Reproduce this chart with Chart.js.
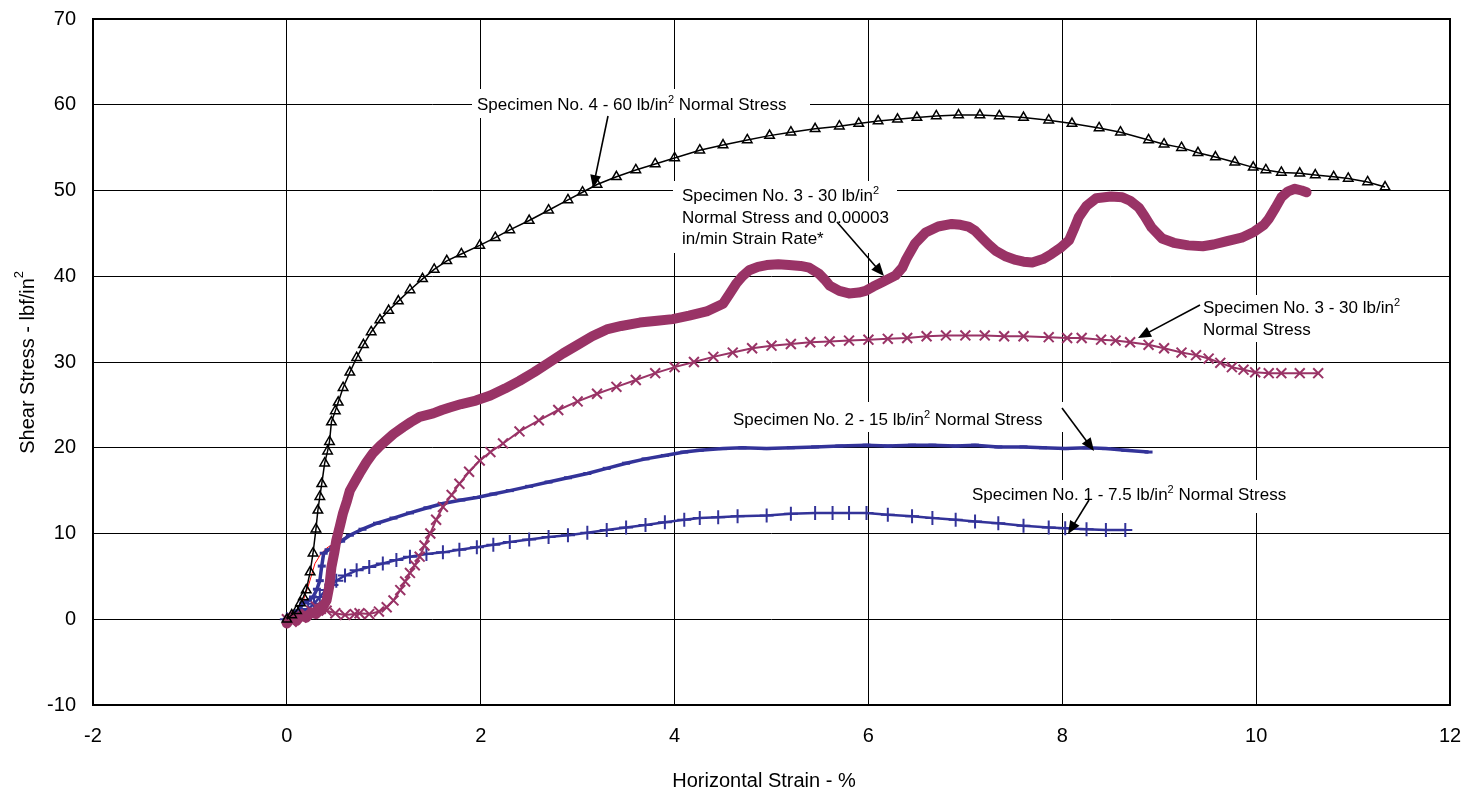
<!DOCTYPE html>
<html>
<head>
<meta charset="utf-8">
<script src="https://cdn.jsdelivr.net/npm/chart.js@4.4.1/dist/chart.umd.min.js"></script>
<style>
  body { margin: 0; background: #fff; }
</style>
</head>
<body>
<canvas id="myChart" width="1465" height="795"></canvas>
<script>
// Specimen No. 4 - 60 psi
const spec4X = [0, 0.05, 0.1, 0.14, 0.17, 0.2, 0.24, 0.27, 0.3, 0.32, 0.34, 0.36, 0.39, 0.42, 0.44, 0.46, 0.5, 0.53, 0.58, 0.65, 0.72, 0.79, 0.87, 0.96, 1.05, 1.15, 1.27, 1.4, 1.52, 1.65, 1.8, 1.99, 2.15, 2.3, 2.5, 2.7, 2.9, 3.05, 3.2, 3.4, 3.6, 3.8, 4.0, 4.26, 4.5, 4.75, 4.98, 5.2, 5.45, 5.7, 5.9, 6.1, 6.3, 6.5, 6.7, 6.93, 7.15, 7.35, 7.6, 7.86, 8.1, 8.38, 8.6, 8.89, 9.05, 9.23, 9.4, 9.58, 9.78, 9.97, 10.1, 10.26, 10.45, 10.61, 10.8, 10.95, 11.15, 11.33];
const spec4Y = [0, 0.5, 1.0, 1.9, 2.6, 3.4, 5.5, 7.7, 10.5, 12.7, 14.3, 15.8, 18.2, 19.6, 20.7, 23, 24.3, 25.3, 27, 28.8, 30.5, 32, 33.5, 34.9, 36, 37.1, 38.4, 39.7, 40.8, 41.8, 42.6, 43.6, 44.5, 45.4, 46.5, 47.7, 48.9, 49.8, 50.7, 51.6, 52.4, 53.1, 53.8, 54.7, 55.3, 55.9, 56.4, 56.8, 57.2, 57.5, 57.8, 58.1, 58.3, 58.5, 58.7, 58.8, 58.8, 58.7, 58.5, 58.2, 57.8, 57.3, 56.8, 55.9, 55.4, 55.0, 54.4, 53.9, 53.3, 52.7, 52.4, 52.1, 52.0, 51.8, 51.6, 51.4, 51.0, 50.4];

// Specimen No. 3 - 30 psi, slow strain rate
const spec3sX = [0, 0.05, 0.1, 0.15, 0.2, 0.25, 0.3, 0.35, 0.38, 0.41, 0.44, 0.46, 0.49, 0.51, 0.55, 0.58, 0.62, 0.65, 0.7, 0.75, 0.82, 0.89, 0.96, 1.03, 1.1, 1.2, 1.28, 1.37, 1.51, 1.6, 1.68, 1.8, 1.95, 2.1, 2.25, 2.4, 2.55, 2.7, 2.85, 3.0, 3.15, 3.3, 3.45, 3.64, 3.82, 3.98, 4.15, 4.33, 4.5, 4.57, 4.64, 4.7, 4.77, 4.86, 4.95, 5.07, 5.18, 5.3, 5.39, 5.49, 5.55, 5.6, 5.7, 5.8, 5.9, 5.97, 6.05, 6.14, 6.28, 6.35, 6.39, 6.48, 6.59, 6.72, 6.86, 6.95, 7.03, 7.1, 7.17, 7.24, 7.31, 7.42, 7.52, 7.6, 7.69, 7.8, 7.89, 7.98, 8.07, 8.12, 8.17, 8.25, 8.35, 8.5, 8.62, 8.7, 8.79, 8.85, 8.92, 9.03, 9.15, 9.3, 9.45, 9.56, 9.7, 9.85, 9.98, 10.08, 10.13, 10.2, 10.26, 10.33, 10.4, 10.47, 10.52];
const spec3sY = [-0.5, 0.3, -0.2, 0.5, 0.2, 0.8, 0.6, 1.2, 1.6, 2.2, 4, 6.1, 7.8, 9.2, 11, 12.4, 13.8, 15, 16, 17, 18.3, 19.4, 20.2, 20.9, 21.6, 22.4, 23.0, 23.6, 24, 24.4, 24.7, 25.1, 25.5, 26.1, 26.9, 27.8, 28.8, 29.9, 31, 32, 33, 33.8, 34.2, 34.6, 34.8, 35.0, 35.4, 35.9, 36.8, 38, 39.2, 40, 40.7, 41.1, 41.3, 41.4, 41.3, 41.2, 41.0, 40.3, 39.6, 38.9, 38.3, 38, 38.1, 38.3, 38.8, 39.3, 40.1, 41, 42.0, 43.8, 45.1, 45.8, 46.1, 46.0, 45.8, 45.3, 44.5, 43.7, 43, 42.3, 41.9, 41.7, 41.6, 42, 42.6, 43.3, 44.2, 45.5, 46.9, 48.2, 49.1, 49.3, 49.2, 48.8, 48, 47, 45.7, 44.4, 43.9, 43.6, 43.5, 43.7, 44.1, 44.5, 45.2, 46, 46.7, 48, 49.2, 49.9, 50.2, 50.0, 49.8];

// Specimen No. 3 - 30 psi
const spec3X = [0, 0.05, 0.1, 0.15, 0.2, 0.25, 0.3, 0.35, 0.41, 0.5, 0.6, 0.7, 0.75, 0.85, 0.95, 1.03, 1.1, 1.17, 1.22, 1.27, 1.32, 1.37, 1.42, 1.48, 1.54, 1.61, 1.7, 1.78, 1.88, 1.99, 2.1, 2.23, 2.4, 2.6, 2.8, 3.0, 3.2, 3.4, 3.6, 3.8, 4.0, 4.2, 4.4, 4.6, 4.8, 5.0, 5.2, 5.4, 5.6, 5.8, 6.0, 6.2, 6.4, 6.6, 6.8, 7.0, 7.2, 7.4, 7.6, 7.86, 8.05, 8.2, 8.4, 8.55, 8.7, 8.89, 9.05, 9.23, 9.38, 9.51, 9.63, 9.75, 9.87, 9.99, 10.13, 10.26, 10.45, 10.64];
const spec3Y = [0, -0.3, 0.4, 0.2, 0.6, 1.0, 1.5, 1.2, 1.0, 0.7, 0.5, 0.6, 0.7, 0.6, 0.9, 1.4, 2.2, 3.4, 4.4, 5.4, 6.3, 7.3, 8.6, 10, 11.6, 13.1, 14.5, 15.8, 17.2, 18.5, 19.5, 20.5, 21.9, 23.2, 24.4, 25.4, 26.3, 27.1, 27.9, 28.7, 29.4, 30.0, 30.6, 31.1, 31.6, 31.9, 32.1, 32.3, 32.4, 32.5, 32.6, 32.7, 32.8, 33.0, 33.1, 33.1, 33.1, 33.0, 33.0, 32.9, 32.8, 32.8, 32.6, 32.5, 32.3, 32, 31.6, 31.1, 30.8, 30.4, 29.9, 29.4, 29.1, 28.8, 28.7, 28.7, 28.7, 28.7];

// Specimen No. 2 - 15 psi
const spec2X = [0, 0.07, 0.12, 0.17, 0.22, 0.27, 0.31, 0.34, 0.36, 0.38, 0.43, 0.48, 0.56, 0.65, 0.78, 0.93, 1.1, 1.27, 1.45, 1.61, 1.8, 1.96, 2.13, 2.3, 2.5, 2.7, 2.9, 3.1, 3.3, 3.5, 3.7, 3.9, 4.1, 4.26, 4.5, 4.7, 4.95, 5.2, 5.45, 5.7, 5.98, 6.2, 6.45, 6.66, 6.9, 7.1, 7.34, 7.6, 7.8, 8.03, 8.25, 8.45, 8.65, 8.89];
const spec2Y = [0, 0.3, 1.0, 1.9, 2.2, 2.6, 3.5, 4.5, 6.2, 7.7, 8.1, 8.4, 9.1, 9.8, 10.5, 11.2, 11.8, 12.4, 13.0, 13.5, 13.9, 14.2, 14.6, 15.0, 15.5, 16.0, 16.5, 17.0, 17.6, 18.2, 18.7, 19.1, 19.5, 19.7, 19.9, 20.0, 19.9, 20.0, 20.1, 20.2, 20.3, 20.2, 20.3, 20.3, 20.2, 20.3, 20.1, 20.1, 20.0, 19.9, 20.0, 19.9, 19.7, 19.5];

// early trace under specimen 2 (thin red)
const spec2aX = [0, 0.1, 0.17, 0.23, 0.29, 0.35, 0.41, 0.48, 0.55, 0.62];
const spec2aY = [0, 0.6, 2.2, 4.2, 6.5, 7.6, 8.3, 8.8, 9.2, 9.7];

// Specimen No. 1 - 7.5 psi
const spec1X = [0, 0.08, 0.15, 0.22, 0.28, 0.34, 0.4, 0.46, 0.51, 0.6, 0.72, 0.85, 0.99, 1.13, 1.27, 1.44, 1.61, 1.78, 1.96, 2.13, 2.3, 2.5, 2.7, 2.9, 3.1, 3.3, 3.5, 3.7, 3.9, 4.1, 4.26, 4.45, 4.65, 4.95, 5.2, 5.45, 5.63, 5.8, 5.98, 6.2, 6.45, 6.66, 6.9, 7.1, 7.34, 7.6, 7.86, 8.03, 8.25, 8.45, 8.65];
const spec1Y = [0, 0.3, 0.8, 1.2, 1.8, 2.6, 3.4, 4.0, 4.5, 5.1, 5.7, 6.1, 6.5, 6.9, 7.3, 7.6, 7.8, 8.1, 8.4, 8.7, 9.0, 9.3, 9.6, 9.8, 10.1, 10.4, 10.7, 11.0, 11.3, 11.6, 11.8, 11.9, 12.0, 12.1, 12.3, 12.4, 12.4, 12.4, 12.4, 12.2, 12.0, 11.8, 11.6, 11.4, 11.2, 10.9, 10.7, 10.6, 10.5, 10.4, 10.4];

const xTicks = [-2, 0, 2, 4, 6, 8, 10, 12];
const yTicks = [-10, 0, 10, 20, 30, 40, 50, 60, 70];

const PLUM = '#993366';
const NAVY = '#333399';
const FONT = "'Liberation Sans', Arial, sans-serif";

function pts(xs, ys) {
    return xs.map((x, i) => ({x: x, y: ys[i]}));
}

// text with a superscript "2"
function drawRich(ctx, parts, x, y, size) {
    let cx = x;
    parts.forEach(p => {
        if (p.sup) {
            ctx.font = Math.round(size * 0.65) + 'px ' + FONT;
            ctx.fillText(p.t, cx, y - size * 0.42);
        } else {
            ctx.font = size + 'px ' + FONT;
            ctx.fillText(p.t, cx, y);
        }
        cx += ctx.measureText(p.t).width;
    });
}

function arrow(ctx, x1, y1, x2, y2) {
    const a = Math.atan2(y2 - y1, x2 - x1);
    const len = 13, w = 5.5;
    ctx.strokeStyle = '#000';
    ctx.fillStyle = '#000';
    ctx.lineWidth = 1.6;
    ctx.beginPath();
    ctx.moveTo(x1, y1);
    ctx.lineTo(x2 - Math.cos(a) * len * 0.8, y2 - Math.sin(a) * len * 0.8);
    ctx.stroke();
    ctx.beginPath();
    ctx.moveTo(x2, y2);
    ctx.lineTo(x2 - Math.cos(a) * len + Math.sin(a) * w, y2 - Math.sin(a) * len - Math.cos(a) * w);
    ctx.lineTo(x2 - Math.cos(a) * len - Math.sin(a) * w, y2 - Math.sin(a) * len + Math.cos(a) * w);
    ctx.closePath();
    ctx.fill();
}

const notes = [
    {box: [472, 89, 338, 29], lines: [[{t: 'Specimen No. 4 - 60 lb/in'}, {t: '2', sup: true}, {t: ' Normal Stress'}]], x: 477, y: 110,
     arrow: [608, 116, 593, 188]},
    {box: [673, 181, 224, 72], lines: [[{t: 'Specimen No. 3 - 30 lb/in'}, {t: '2', sup: true}], [{t: 'Normal Stress and 0.00003'}], [{t: 'in/min Strain Rate*'}]], x: 682, y: 201,
     arrow: [837, 222, 884, 276]},
    {box: [1198, 295, 212, 47], lines: [[{t: 'Specimen No. 3 - 30 lb/in'}, {t: '2', sup: true}], [{t: 'Normal Stress'}]], x: 1203, y: 313,
     arrow: [1200, 305, 1138, 338]},
    {box: [727, 402, 337, 30], lines: [[{t: 'Specimen No. 2 - 15 lb/in'}, {t: '2', sup: true}, {t: ' Normal Stress'}]], x: 733, y: 425,
     arrow: [1062, 408, 1094, 451]},
    {box: [966, 480, 324, 33], lines: [[{t: 'Specimen No. 1 - 7.5 lb/in'}, {t: '2', sup: true}, {t: ' Normal Stress'}]], x: 972, y: 500,
     arrow: [1089, 500, 1068, 534]},
];

const notesPlugin = {
    id: 'notes',
    beforeDatasetsDraw(chart) {
        const ctx = chart.ctx;
        ctx.save();
        ctx.fillStyle = '#fff';
        notes.forEach(n => ctx.fillRect(n.box[0], n.box[1], n.box[2], n.box[3]));
        ctx.restore();
    },
    afterDatasetsDraw(chart) {
        const ctx = chart.ctx;
        const a = chart.chartArea;
        ctx.save();
        ctx.fillStyle = '#000';
        ctx.textBaseline = 'alphabetic';
        ctx.textAlign = 'left';
        notes.forEach(n => {
            n.lines.forEach((l, i) => drawRich(ctx, l, n.x, n.y + i * 21.5, 17));
            arrow(ctx, ...n.arrow);
        });
        // frame
        ctx.strokeStyle = '#000';
        ctx.lineWidth = 2;
        ctx.strokeRect(a.left, a.top, a.right - a.left, a.bottom - a.top);
        // axis titles
        ctx.fillStyle = '#000';
        ctx.textAlign = 'center';
        ctx.textBaseline = 'middle';
        ctx.font = '20px ' + FONT;
        ctx.fillText('Horizontal Strain - %', 764, 781);
        ctx.translate(28, (a.top + a.bottom) / 2);
        ctx.rotate(-Math.PI / 2);
        ctx.textAlign = 'left';
        const t1 = 'Shear Stress - lbf/in';
        const w = ctx.measureText(t1).width + 8;
        drawRich(ctx, [{t: t1}, {t: '2', sup: true}], -w / 2, 0, 20);
        ctx.restore();
    }
};

const ctx = document.getElementById('myChart');
new Chart(ctx, {
    type: 'scatter',
    data: {
        datasets: [
            {
                label: 'Specimen No. 4',
                data: pts(spec4X, spec4Y),
                showLine: true,
                borderColor: '#000',
                borderWidth: 1.5,
                pointStyle: 'triangle',
                pointRadius: 5.5,
                pointBorderWidth: 1.5,
                pointBorderColor: '#000',
                pointBackgroundColor: 'rgba(0,0,0,0)',
                order: 1
            },
            {
                label: 'Specimen No. 3 slow',
                data: pts(spec3sX, spec3sY),
                showLine: true,
                borderColor: PLUM,
                borderWidth: 10,
                borderCapStyle: 'round',
                borderJoinStyle: 'round',
                pointRadius: 0,
                order: 2
            },
            {
                label: 'Specimen No. 3',
                data: pts(spec3X, spec3Y),
                showLine: true,
                borderColor: PLUM,
                borderWidth: 2,
                pointStyle: 'crossRot',
                pointRadius: 7,
                pointBorderWidth: 2,
                pointBorderColor: PLUM,
                order: 3
            },
            {
                label: 'Specimen No. 2',
                data: pts(spec2X, spec2Y),
                showLine: true,
                borderColor: NAVY,
                borderWidth: 3.5,
                pointStyle: 'line',
                pointRadius: 4,
                pointBorderWidth: 3,
                pointBorderColor: NAVY,
                order: 4
            },
            {
                label: 'Specimen No. 2 early',
                data: pts(spec2aX, spec2aY),
                showLine: true,
                borderColor: '#ff0000',
                borderWidth: 1,
                pointRadius: 0,
                order: 6
            },
            {
                label: 'Specimen No. 1',
                data: pts(spec1X, spec1Y),
                showLine: true,
                borderColor: NAVY,
                borderWidth: 2.5,
                pointStyle: 'cross',
                pointRadius: 7,
                pointBorderWidth: 2,
                pointBorderColor: NAVY,
                order: 5
            }
        ]
    },
    options: {
        responsive: false,
        animation: false,
        layout: {padding: {left: 0, right: 15, top: 19, bottom: 0}},
        plugins: {
            legend: {display: false},
            tooltip: {enabled: false}
        },
        scales: {
            x: {
                type: 'linear',
                min: -2,
                max: 12,
                afterBuildTicks: s => { s.ticks = xTicks.map(v => ({value: v})); },
                afterFit: s => { s.height = 90; s.paddingLeft = 0; s.paddingRight = 0; },
                grid: {color: '#000', lineWidth: 1, drawTicks: false},
                border: {display: false},
                ticks: {color: '#000', padding: 19, font: {family: FONT, size: 20}}
            },
            y: {
                type: 'linear',
                min: -10,
                max: 70,
                afterBuildTicks: s => { s.ticks = yTicks.map(v => ({value: v})); },
                afterFit: s => { s.width = 93; s.paddingTop = 0; s.paddingBottom = 0; },
                grid: {color: '#000', lineWidth: 1, drawTicks: false},
                border: {display: false},
                ticks: {color: '#000', padding: 17, font: {family: FONT, size: 20}}
            }
        }
    },
    plugins: [notesPlugin]
});
</script>
</body>
</html>
